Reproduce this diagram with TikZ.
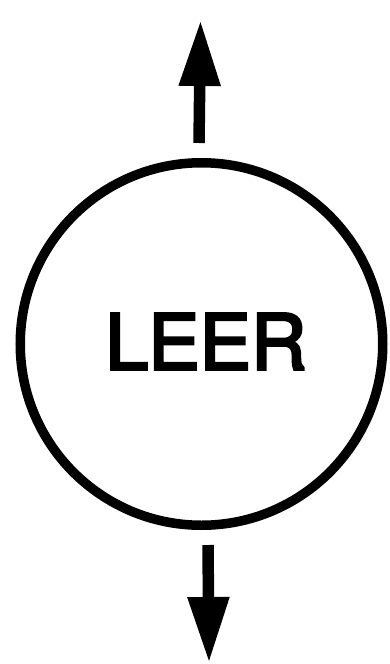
\documentclass[tikz,border=0pt]{standalone}
\usepackage{fontspec}
\setmainfont{TeX Gyre Heros}
\newfontfamily\medfont[FakeBold=3.5]{TeX Gyre Heros}
\usetikzlibrary{arrows.meta}
\begin{document}
\begin{tikzpicture}[x=1pt,y=-1pt,
  ring/.style={circle,draw=black,line width=9.5pt,minimum size=362.5pt,inner sep=0pt},
  label/.style={font=\medfont\fontsize{77}{77}\selectfont,inner sep=0pt},
  flow/.style={line width=11.5pt,line cap=butt,-{Triangle[length=66pt,width=39pt]}}]
\useasboundingbox (0,0) rectangle (389,664);
\node[ring] (c) at (201.5,344) {};
\node[label] (t) at (206,341.5) {LEER};
\coordinate (a1) at (199,143);
\coordinate (a2) at (200.5,20);
\coordinate (b1) at (208,545);
\coordinate (b2) at (209,663);
\draw[flow] (a1) -- (a2);
\draw[flow] (b1) -- (b2);
\end{tikzpicture}
\end{document}
